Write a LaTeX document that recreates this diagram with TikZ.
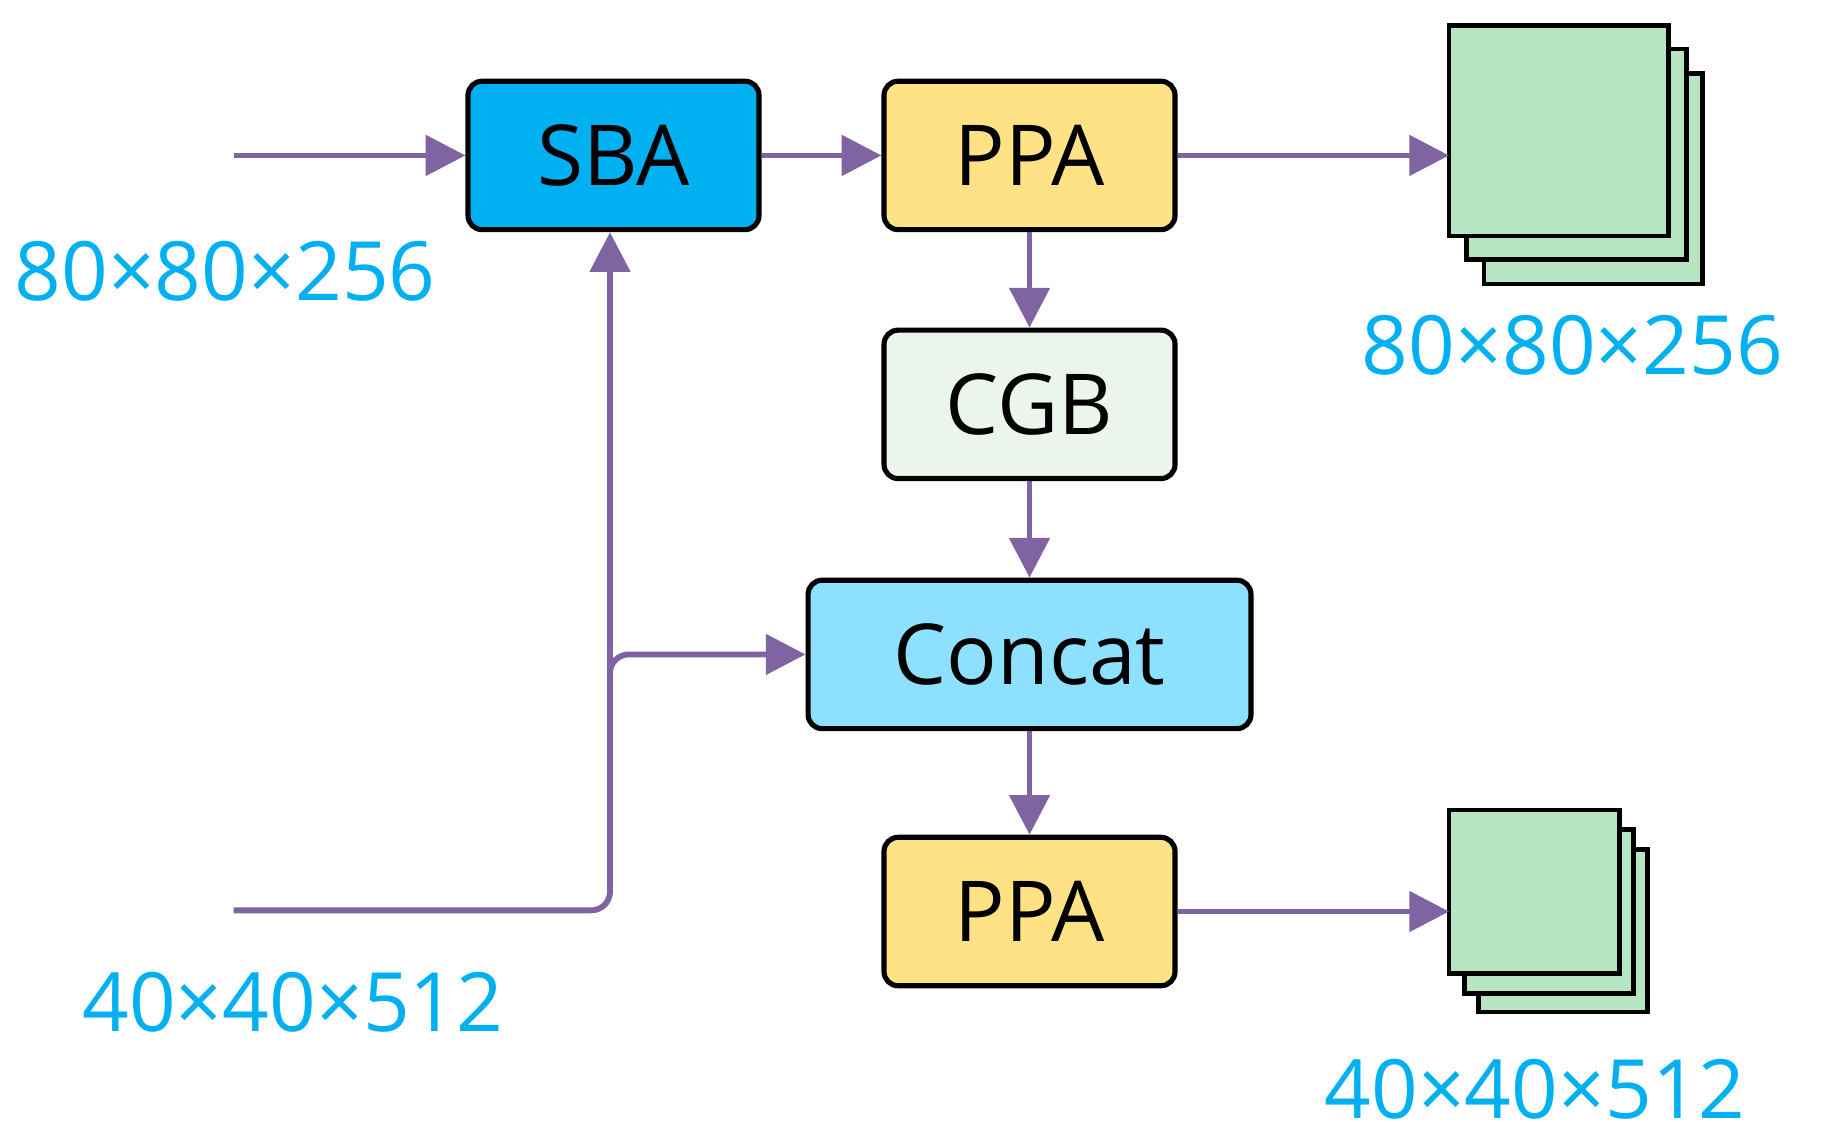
\documentclass[tikz,border=0pt]{standalone}
\usepackage{fontspec}
\setmainfont{Open Sans}
\usetikzlibrary{arrows.meta}
\definecolor{arr}{HTML}{8064A2}
\definecolor{lbl}{HTML}{00B0F0}
\begin{document}
\begin{tikzpicture}[x=0.5pt,y=-0.5pt,
 box/.style={draw=black,line width=2.2pt,rounded corners=6pt,minimum width=124.5pt,minimum height=63.5pt,inner sep=0pt,font=\fontsize{36}{40}\selectfont},
 con/.style={draw=arr,line width=2.5pt,-{Triangle[length=17pt,width=17pt]}},
 sq/.style={draw=black,line width=2pt,fill=green!25!white,fill={rgb,255:red,181;green,230;blue,193}},
 lab/.style={text=lbl,font=\fontsize{35}{40}\selectfont,inner sep=0pt}]
\useasboundingbox (0,0) rectangle (1560,982);
\node[box,fill={rgb,255:red,0;green,176;blue,240}] (sba) at (525,133) {SBA};
\node[box,fill={rgb,255:red,255;green,226;blue,133}] (ppa1) at (881,133) {PPA};
\node[box,fill={rgb,255:red,235;green,245;blue,236}] (cgb) at (881,346) {CGB};
\node[box,fill={rgb,255:red,142;green,224;blue,255},minimum width=189.5pt] (cat) at (881,560) {Concat};
\node[box,fill={rgb,255:red,255;green,226;blue,133}] (ppa2) at (881,780) {PPA};
% stacks
\draw[sq] (1270,63) rectangle (1457,243);
\draw[sq] (1255,42) rectangle (1443,222);
\draw[sq] (1240,22) rectangle (1428,202);
\coordinate (st1) at (1240,133);
\draw[sq] (1265,727) rectangle (1410,866);
\draw[sq] (1253,710) rectangle (1398,850);
\draw[sq] (1240,693) rectangle (1386,833);
\coordinate (st2) at (1240,780);
\coordinate (in1) at (200,133);
\coordinate (in2) at (200,779);
\coordinate (br) at (522,560);
\draw[con] (in1) -- (sba.west);
\draw[con] (sba.east) -- (ppa1.west);
\draw[con] (ppa1.east) -- (st1);
\draw[con] (ppa1.south) -- (cgb.north);
\draw[con] (cgb.south) -- (cat.north);
\draw[con] (cat.south) -- (ppa2.north);
\draw[con] (ppa2.east) -- (st2);
\draw[con,rounded corners=8pt] (in2) -- (522,779) -- (sba.south -| 522,0);
\draw[con,rounded corners=8pt] (522,600) -- (br) -- (cat.west);
\node[lab,anchor=west] (l1) at (12,232) {80×80×256};
\node[lab,anchor=west] (l2) at (1165,295) {80×80×256};
\node[lab,anchor=west] (l3) at (70,858) {40×40×512};
\node[lab,anchor=west] (l4) at (1133,932) {40×40×512};
\end{tikzpicture}
\end{document}
